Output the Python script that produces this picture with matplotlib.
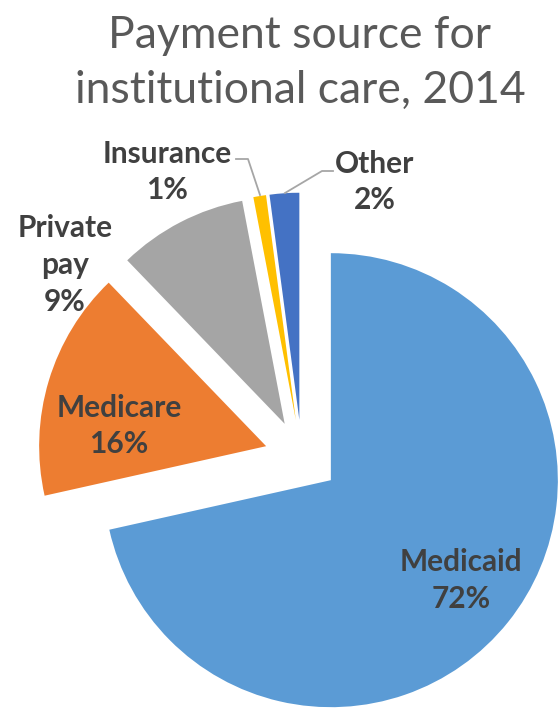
import matplotlib
matplotlib.use("Agg")
import matplotlib.pyplot as plt
from matplotlib.lines import Line2D

# ---- data ----
categories = ["Medicaid", "Medicare", "Private\npay", "Insurance", "Other"]
shares = [71.5, 16.3, 9.2, 0.9, 2.1]
colors = ["#5B9BD5", "#ED7D31", "#A5A5A5", "#FFC000", "#4472C4"]
title = "Payment source for\ninstitutional care, 2014"

# ---- layout (pixels) ----
W, H = 559, 709
R_PX = 227.0
CX, CY = 301.8, 456.9          # pie centre in pixels (from top-left)
EXPLODE = 0.164

fig = plt.figure(figsize=(W / 100, H / 100), dpi=100)
ax = fig.add_axes([0, 0, 1, 1])

ax.pie(shares, colors=colors, startangle=90, counterclock=False,
       explode=[EXPLODE] * len(shares), radius=1.0, center=(0, 0),
       wedgeprops=dict(linewidth=0), frame=False)
ax.set_xlim(-CX / R_PX, (W - CX) / R_PX)
ax.set_ylim(-(H - CY) / R_PX, CY / R_PX)
ax.set_aspect("equal")
ax.axis("off")


def fx(x):
    return x / W


def fy(y):
    return 1 - y / H


TXT = "#404040"
FONT = ["Lato", "DejaVu Sans"]
label_pos = [(461, 580.5), (119, 426), (65, 265), (167, 172), (375, 182)]
for cat, val, (x, y) in zip(categories, shares, label_pos):
    fig.text(fx(x), fy(y), f"{cat}\n{val:.0f}%", ha="center", va="center",
             fontsize=21.5, fontweight="bold", color=TXT, family=FONT,
             linespacing=1.38)

# leader lines
lc = "#A6A6A6"
fig.add_artist(Line2D([fx(236), fx(248), fx(260)], [fy(159), fy(159), fy(195)],
                      color=lc, lw=1.3))
fig.add_artist(Line2D([fx(333), fx(322), fx(285)], [fy(171), fy(171), fy(193)],
                      color=lc, lw=1.3))

fig.text(fx(300), fy(63), title, ha="center", va="center", fontsize=32,
         color="#595959", family=FONT, linespacing=1.42)

fig.savefig("out.png", dpi=100)
